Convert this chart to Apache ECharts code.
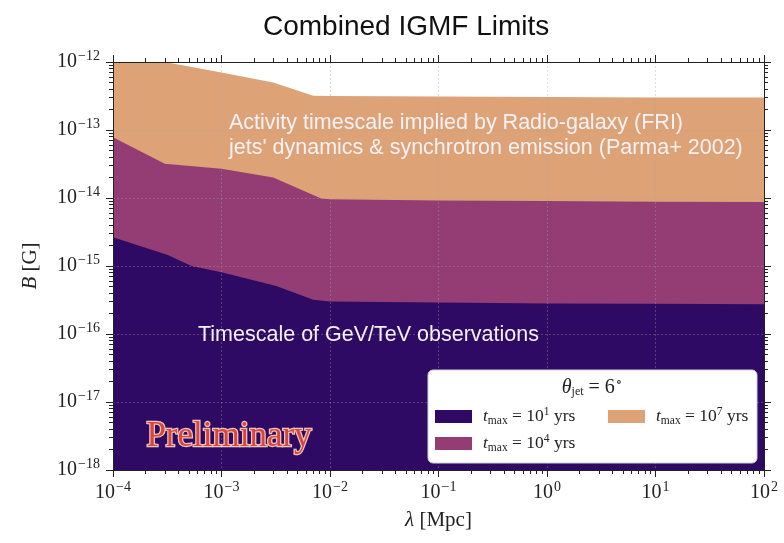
<!DOCTYPE html>
<html>
<head>
<meta charset="utf-8">
<script src="https://cdn.jsdelivr.net/npm/echarts@6/dist/echarts.min.js"></script>
<style>
  html, body { margin: 0; padding: 0; background: #fff; }
  #chart { width: 784px; height: 543px; }
</style>
</head>
<body>
<div id="chart"></div>
<script>
// Coherence length λ [Mpc] and field strength B [G] along the upper edge of each band
const lam1 = [1e-4, 3.2e-4, 5.3e-4, 1e-3, 3.2e-3, 7e-3, 1e-2, 1e-1, 1, 10, 100];
const bTmax1 = [2.65e-15, 1.45e-15, 1.0e-15, 8.1e-16, 5.1e-16, 3.2e-16, 3.0e-16, 2.9e-16, 2.82e-16, 2.78e-16, 2.75e-16];

const lam4 = [1e-4, 3e-4, 1e-3, 3e-3, 8.3e-3, 1e-2, 1e-1, 1, 10, 100];
const bTmax4 = [7.8e-14, 3.2e-14, 2.7e-14, 2.0e-14, 9.8e-15, 9.6e-15, 9.2e-15, 9.0e-15, 8.8e-15, 8.7e-15];

const lam7 = [1e-4, 3e-4, 1e-3, 3e-3, 7e-3, 1e-2, 1e-1, 1, 10, 100];
const bTmax7 = [1e-12, 1e-12, 7e-13, 5e-13, 3.2e-13, 3.15e-13, 3.1e-13, 3.05e-13, 3.0e-13, 3.0e-13];

const seriesNames = ['t_max = 10^1 yrs', 't_max = 10^4 yrs', 't_max = 10^7 yrs'];
const seriesExp = ['1', '4', '7'];
const seriesColors = ['#2f0a65', '#943d75', '#dda376'];

const xDecades = [-4, -3, -2, -1, 0, 1];
const yDecades = [-18, -17, -16, -15, -14, -13];

const SERIF = '"Liberation Serif", "DejaVu Serif", serif';
const SANS = '"Liberation Sans", Arial, sans-serif';

function minorValues(decades) {
  const out = [];
  decades.forEach(function (d) {
    for (let k = 2; k <= 9; k++) out.push(k * Math.pow(10, d));
  });
  return out;
}

function pairs(xs, ys) {
  return xs.map(function (x, i) { return [x, ys[i]]; });
}

function powLabel(v) {
  const e = Math.round(Math.log10(v));
  return '{b|10}{e|' + String(e).replace('-', '\u2212') + '}';
}

const labelRich = {
  b: { fontFamily: SERIF, fontSize: 20, color: '#222' },
  e: { fontFamily: SERIF, fontSize: 14, color: '#222', padding: [0, 0, 11, 1] }
};

const axisLineStyle = { show: true, lineStyle: { color: '#222', width: 1 } };
const gridLine = { show: true, lineStyle: { color: 'rgba(165,165,165,0.45)', width: 0.8, type: [2, 2] } };

function logAxis(kind, pos, opts) {
  const base = {
    type: 'log', logBase: 10, position: pos, z: 3,
    axisLine: axisLineStyle,
    axisTick: { show: true, inside: false, length: 7, lineStyle: { color: '#222', width: 1 } },
    axisLabel: { show: false },
    splitLine: { show: false },
    minorTick: { show: false }
  };
  if (kind === 'x') { base.min = 1e-4; base.max = 100; base.interval = 1; }
  else { base.min = 1e-18; base.max = 1e-12; base.interval = 1; }
  return Object.assign(base, opts || {});
}

function minorAxis(kind, pos) {
  return logAxis(kind, pos, {
    axisLine: { show: false },
    axisTick: {
      show: true, inside: false, length: 4,
      lineStyle: { color: '#222', width: 1 },
      customValues: minorValues(kind === 'x' ? xDecades : yDecades)
    }
  });
}

const chart = echarts.init(document.getElementById('chart'), null, { renderer: 'canvas' });

const legendRich = {
  t: { fontFamily: SERIF, fontStyle: 'italic', fontSize: 17.5, color: '#222', padding: [0, 0, 0, 6] },
  sub: { fontFamily: SERIF, fontSize: 11.5, color: '#222', padding: [8, 0, 0, 0] },
  n: { fontFamily: SERIF, fontSize: 17.5, color: '#222' },
  sup: { fontFamily: SERIF, fontSize: 11.5, color: '#222', padding: [0, 0, 9, 0] }
};

const dataSets = [pairs(lam1, bTmax1), pairs(lam4, bTmax4), pairs(lam7, bTmax7)];

// widest band first so the narrower ones sit on top of it
const series = [2, 1, 0].map(function (i) {
  return {
    name: seriesNames[i],
    type: 'line',
    xAxisIndex: 0, yAxisIndex: 0,
    data: dataSets[i],
    symbol: 'none',
    lineStyle: { width: 0 },
    itemStyle: { color: seriesColors[i] },
    areaStyle: { color: seriesColors[i], opacity: 1, origin: 'start' },
    z: 2,
    silent: true,
    animation: false
  };
});

chart.setOption({
  animation: false,
  backgroundColor: '#ffffff',
  title: {
    text: 'Combined IGMF Limits',
    left: 258, top: 8,
    textStyle: { fontFamily: SANS, fontSize: 28, fontWeight: 'normal', color: '#111' }
  },
  grid: { left: 113, right: 20, top: 62, bottom: 73, containLabel: false },
  xAxis: [
    logAxis('x', 'bottom', {
      axisLabel: { show: true, margin: 10, formatter: powLabel, rich: labelRich },
      splitLine: gridLine,
      name: '{i|\u03bb} [Mpc]', nameLocation: 'middle', nameGap: 40,
      nameTextStyle: {
        fontFamily: SERIF, fontSize: 21, color: '#222',
        rich: { i: { fontFamily: SERIF, fontStyle: 'italic', fontSize: 21, color: '#222' } }
      }
    }),
    minorAxis('x', 'bottom'),
    logAxis('x', 'top'),
    minorAxis('x', 'top')
  ],
  yAxis: [
    logAxis('y', 'left', {
      axisLabel: { show: true, margin: 13, formatter: powLabel, rich: labelRich },
      splitLine: gridLine,
      name: '{i|B} [G]', nameLocation: 'middle', nameGap: 72, nameRotate: 90,
      nameTextStyle: {
        fontFamily: SERIF, fontSize: 21, color: '#222',
        rich: { i: { fontFamily: SERIF, fontStyle: 'italic', fontSize: 21, color: '#222' } }
      }
    }),
    minorAxis('y', 'left'),
    logAxis('y', 'right'),
    minorAxis('y', 'right')
  ],
  legend: {
    data: seriesNames,
    orient: 'vertical',
    left: 435, top: 406, height: 50,
    padding: 0,
    itemWidth: 37, itemHeight: 13, itemGap: 6,
    icon: 'rect',
    z: 20,
    selectedMode: false,
    formatter: function (name) {
      const i = seriesNames.indexOf(name);
      return '{t|t}{sub|max}{n| = 10}{sup|' + seriesExp[i] + '}{n| yrs}';
    },
    textStyle: { width: 125, lineHeight: 21, rich: legendRich }
  },
  graphic: [
    {
      type: 'rect', z: 15, silent: true,
      shape: { x: 428, y: 370, width: 329, height: 93, r: 5 },
      style: { fill: '#ffffff', stroke: '#cfcfcf', lineWidth: 1 }
    },
    {
      type: 'text', z: 20, silent: true, x: 592, y: 388,
      style: {
        text: '{i|\u03b8}{sub|jet}{n| = 6}{sup|\u2218}',
        align: 'center', verticalAlign: 'middle',
        rich: {
          i: { fontFamily: SERIF, fontStyle: 'italic', fontSize: 20, fill: '#222' },
          sub: { fontFamily: SERIF, fontSize: 12, fill: '#222', padding: [8, 0, 0, 0] },
          n: { fontFamily: SERIF, fontSize: 20, fill: '#222' },
          sup: { fontFamily: SERIF, fontSize: 13, fill: '#222', padding: [0, 0, 10, 1] }
        }
      }
    },
    {
      type: 'text', z: 10, silent: true, x: 229, y: 136,
      style: {
        text: 'Activity timescale implied by Radio-galaxy (FRI)\njets\' dynamics & synchrotron emission (Parma+ 2002)',
        fontFamily: SANS, fontSize: 21.5, lineHeight: 25, fill: '#f4f1f6',
        align: 'left', verticalAlign: 'middle'
      }
    },
    {
      type: 'text', z: 10, silent: true, x: 198, y: 335,
      style: {
        text: 'Timescale of GeV/TeV observations',
        fontFamily: SANS, fontSize: 21.5, fill: '#f4f1f6',
        align: 'left', verticalAlign: 'middle'
      }
    },
    {
      type: 'text', z: 10, silent: true, x: 229, y: 437,
      style: {
        text: 'Preliminary',
        fontFamily: SERIF, fontSize: 35, fill: '#d5473a',
        stroke: '#f0c4bc', lineWidth: 2.5, strokeFirst: true,
        align: 'center', verticalAlign: 'middle'
      }
    }
  ],
  series: series
});
</script>
</body>
</html>
